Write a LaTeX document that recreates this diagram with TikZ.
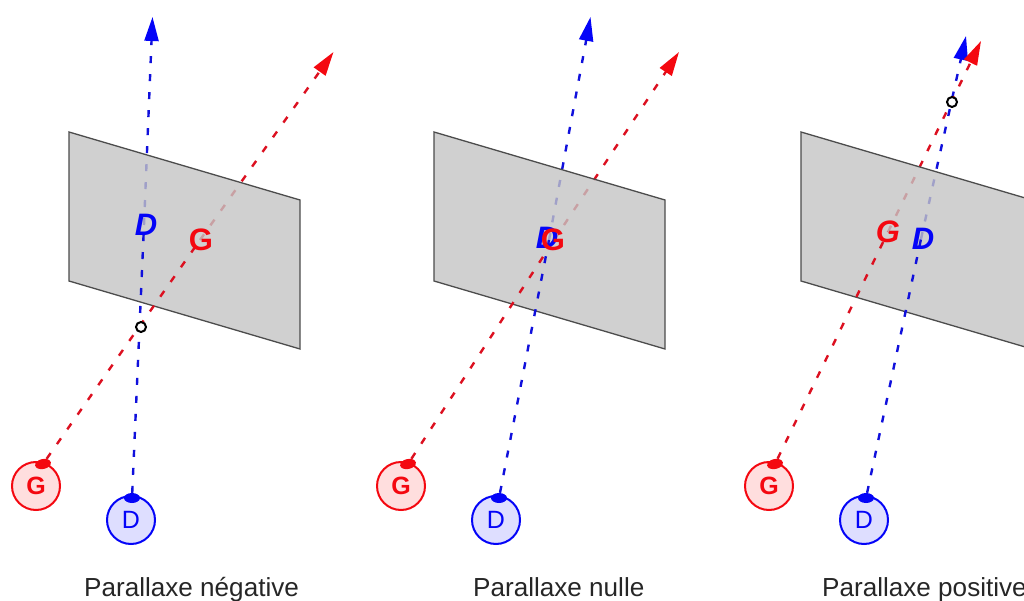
\documentclass[tikz,border=0pt]{standalone}
\usepackage{fontspec}
\setmainfont{Liberation Sans}
\usetikzlibrary{arrows.meta,shapes.geometric}
\definecolor{rl}{HTML}{F40810}
\definecolor{bl}{HTML}{0404F8}
\definecolor{rd}{HTML}{DC1020}
\definecolor{bd}{HTML}{1010DC}
\tikzset{
  x=1pt,y=-1pt,
  plane/.style={fill=black!23,fill opacity=.8,draw=black!70,line width=1.3pt},
  ray/.style={dash pattern=on 7pt off 11pt,line width=2.4pt},
  rayr/.style={ray,draw=rd},
  rayb/.style={ray,draw=bd},
  tippedr/.style={-{Triangle[length=24pt,width=14pt,color=rl]}},
  tippedb/.style={-{Triangle[length=24pt,width=14pt,color=bl]}},
  eye/.style={circle,minimum size=48pt,inner sep=0pt,line width=2pt,font=\fontsize{25}{25}\selectfont},
  eyeg/.style={eye,draw=rl,fill=red!13,text=rl,font=\fontsize{25}{25}\selectfont\bfseries},
  eyed/.style={eye,draw=bl,fill=blue!13,text=bl},
  pup/.style={ellipse,minimum width=16pt,minimum height=10pt,inner sep=0pt},
  lett/.style={inner sep=0pt,font=\fontsize{31}{31}\selectfont\bfseries},
  lettit/.style={lett,font=\fontsize{31}{31}\selectfont\bfseries\itshape},
  cross/.style={circle,draw=black,fill=white,line width=2pt,minimum size=10pt,inner sep=0pt},
  captext/.style={anchor=base west,inner sep=0pt,text=black!85,font=\fontsize{26.1}{26.1}\selectfont}
}
\begin{document}
\begin{tikzpicture}
\clip (0,0) rectangle (1024,601);
% panel 1
\coordinate (at) at (333.5,52);\coordinate (bt) at (152.5,17);
\coordinate (as) at (200,240);\coordinate (bs) at (144,225);
\draw[rayb,tippedb] (bs) -- (bt);
\draw[rayr,tippedr] (as) -- (at);
\path[plane] (69,132) -- (300,200) -- (300,349) -- (69,281) -- cycle;
\node[eyeg] (ag) at (36,486) {G};
\node[eyed] (ad) at (131,520) {D};
\node[pup,fill=rl,rotate=12] (ap) at (43,464) {};
\node[pup,fill=bl] (aq) at (132,498) {};
\draw[rayr] (ap) -- (as);
\draw[rayb] (aq) -- (bs);
\node[lettit,text=bl] (ad2) at (146,225) {D};
\node[lett,text=rl] (ag2) at (201,240) {G};
\node[cross] (ax) at (141,327) {};
\node[captext] (al) at (84,596) {Parallaxe négative};
% panel 2
\coordinate (ct) at (679,52);\coordinate (dt) at (590.5,17);
\coordinate (cs) at (554,240);\coordinate (ds) at (549,240);
\draw[rayb,tippedb] (ds) -- (dt);
\draw[rayr,tippedr] (cs) -- (ct);
\path[plane] (434,132) -- (665,200) -- (665,349) -- (434,281) -- cycle;
\node[eyeg] (cg) at (401,486) {G};
\node[eyed] (cd) at (496,520) {D};
\node[pup,fill=rl,rotate=12] (cp) at (408,464) {};
\node[pup,fill=bl] (cq) at (499,498) {};
\draw[rayr] (cp) -- (cs);
\draw[rayb] (cq) -- (ds);
\node[lettit,text=bl] (cd2) at (547,238) {D};
\node[lett,text=rl] (cg2) at (553,240) {G};
\node[captext] (cl) at (473,596) {Parallaxe nulle};
% panel 3
\coordinate (et) at (981,41);\coordinate (ft) at (966,36);
\coordinate (es) at (888,232);\coordinate (fs) at (921,239);
\draw[rayb,tippedb] (fs) -- (ft);
\draw[rayr,tippedr] (es) -- (et);
\path[plane] (801,132) -- (1032,200) -- (1032,349) -- (801,281) -- cycle;
\node[eyeg] (eg) at (769,486) {G};
\node[eyed] (ed) at (864,520) {D};
\node[pup,fill=rl,rotate=12] (ep) at (775,464) {};
\node[pup,fill=bl] (eq) at (866,498) {};
\draw[rayr] (ep) -- (es);
\draw[rayb] (eq) -- (fs);
\node[lettit,text=rl] (eg2) at (888,232) {G};
\node[lettit,text=bl] (ed2) at (923,239) {D};
\node[cross] (ex) at (952,102) {};
\node[captext] (el) at (822,596) {Parallaxe positive};
\end{tikzpicture}
\end{document}
